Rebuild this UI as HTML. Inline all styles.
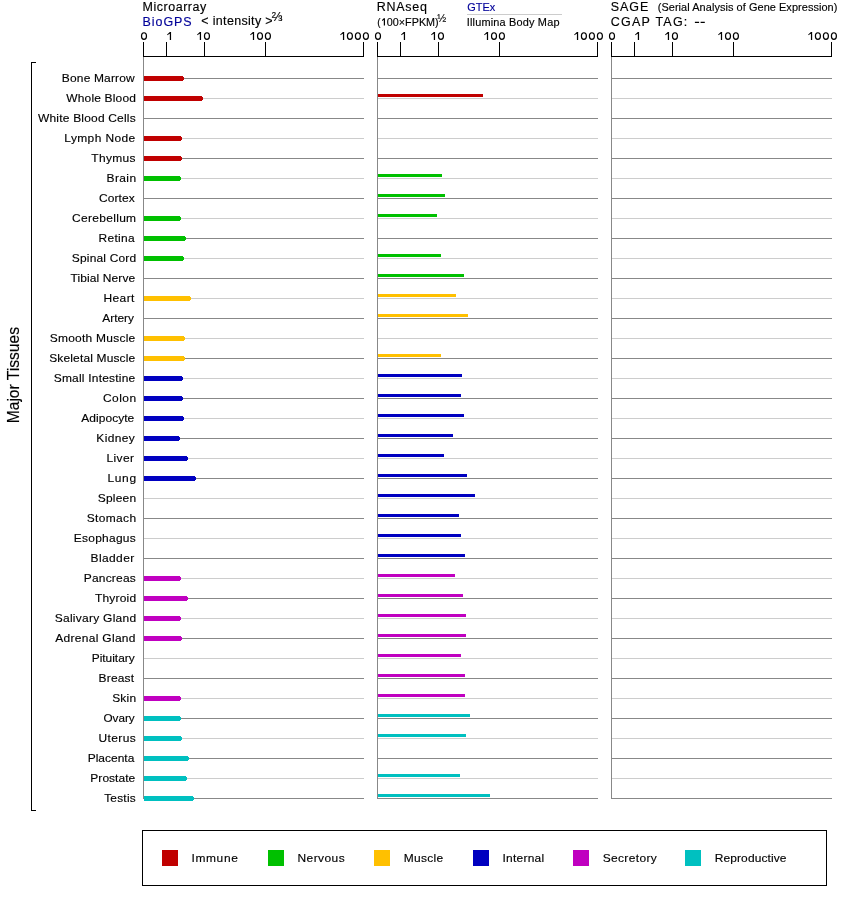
<!DOCTYPE html>
<html><head><meta charset="utf-8"><style>
html,body{margin:0;padding:0;background:#fff;width:842px;height:900px;overflow:hidden}
svg{display:block;font-family:"Liberation Sans", sans-serif;will-change:transform}
rect{shape-rendering:crispEdges}
text{stroke:currentColor;stroke-width:0.15px}
</style></head><body>
<svg width="842" height="900" viewBox="0 0 842 900">
<text transform="translate(142.48,11) scale(1.0400,1)" font-size="12" textLength="61.30" lengthAdjust="spacing" xml:space="preserve">Microarray</text>
<text transform="translate(142.48,25.7) scale(1.0400,1)" font-size="12" textLength="47.30" lengthAdjust="spacing" fill="#000099" style="color:#000099" xml:space="preserve">BioGPS</text>
<text transform="translate(201.28,24.8) scale(1.0400,1)" font-size="12" textLength="68.58" lengthAdjust="spacing" xml:space="preserve">&lt; intensity &gt;</text>
<text transform="translate(271.79,20.9) scale(0.9982,1)" font-size="12.8" xml:space="preserve">⅔</text>
<text transform="translate(376.68,11) scale(1.0400,1)" font-size="12" textLength="48.39" lengthAdjust="spacing" xml:space="preserve">RNAseq</text>
<text transform="translate(377.27,25.6) scale(0.9258,1)" font-size="11" xml:space="preserve">(</text>
<path d="M383.8,18.3h1.2v7.3h-1.2zM383.8,18.3h1.2v1.0L382,20.9v-0.8z" fill="#000"/>
<text transform="translate(386.78,25.6) scale(0.9813,1)" font-size="11" textLength="52.88" lengthAdjust="spacing" xml:space="preserve">00×FPKM)</text>
<text transform="translate(437.31,21.8) scale(0.9533,1)" font-size="11.3" xml:space="preserve">½</text>
<text transform="translate(467.25,10.7) scale(1.0384,1)" font-size="10.5" textLength="26.83" lengthAdjust="spacing" fill="#000099" style="color:#000099" xml:space="preserve">GTEx</text>
<rect x="467" y="14" width="95" height="1" fill="#cccccc"/>
<text transform="translate(466.79,25.9) scale(1.0400,1)" font-size="10.5" textLength="89.10" lengthAdjust="spacing" xml:space="preserve">Illumina Body Map</text>
<text transform="translate(610.83,11) scale(1.0400,1)" font-size="12" textLength="36.06" lengthAdjust="spacing" xml:space="preserve">SAGE</text>
<text transform="translate(657.72,11) scale(1.0400,1)" font-size="10.5" textLength="172.74" lengthAdjust="spacing" xml:space="preserve">(Serial Analysis of Gene Expression)</text>
<text transform="translate(610.77,25.8) scale(1.0400,1)" font-size="12" textLength="73.63" lengthAdjust="spacing" xml:space="preserve">CGAP TAG:</text>
<path d="M694.9,21.8h4.2v1.3h-4.2zM700.6,21.8h4.2v1.3h-4.2z" fill="#000"/>
<rect x="143" y="56" width="221" height="1" fill="#000"/>
<rect x="143" y="42" width="1" height="14" fill="#000"/>
<rect x="166" y="42" width="1" height="14" fill="#000"/>
<rect x="204" y="42" width="1" height="14" fill="#000"/>
<rect x="265" y="42" width="1" height="14" fill="#000"/>
<rect x="363" y="42" width="1" height="14" fill="#000"/>
<path d="M169.82,32 L171.07,32 L171.07,40 L169.82,40 Z M169.82,32 L171.07,32 L171.07,33.1 L167.15,35.20 L167.15,34.40 Z" fill="#000"/>
<ellipse cx="144.00" cy="36.05" rx="2.5" ry="3.3" fill="none" stroke="#000" stroke-width="1.2"/>
<path d="M199.82,32 L201.07,32 L201.07,40 L199.82,40 Z M199.82,32 L201.07,32 L201.07,33.1 L197.15,35.20 L197.15,34.40 Z" fill="#000"/>
<ellipse cx="206.95" cy="36.05" rx="2.5" ry="3.3" fill="none" stroke="#000" stroke-width="1.2"/>
<path d="M252.88,32 L254.12,32 L254.12,40 L252.88,40 Z M252.88,32 L254.12,32 L254.12,33.1 L250.20,35.20 L250.20,34.40 Z" fill="#000"/>
<ellipse cx="260.00" cy="36.05" rx="2.5" ry="3.3" fill="none" stroke="#000" stroke-width="1.2"/>
<ellipse cx="267.90" cy="36.05" rx="2.5" ry="3.3" fill="none" stroke="#000" stroke-width="1.2"/>
<path d="M342.93,32 L344.18,32 L344.18,40 L342.93,40 Z M342.93,32 L344.18,32 L344.18,33.1 L340.25,35.20 L340.25,34.40 Z" fill="#000"/>
<ellipse cx="349.90" cy="36.05" rx="2.5" ry="3.3" fill="none" stroke="#000" stroke-width="1.2"/>
<ellipse cx="357.90" cy="36.05" rx="2.5" ry="3.3" fill="none" stroke="#000" stroke-width="1.2"/>
<ellipse cx="365.90" cy="36.05" rx="2.5" ry="3.3" fill="none" stroke="#000" stroke-width="1.2"/>
<rect x="143" y="57" width="1" height="742" fill="#888888"/>
<rect x="144" y="78" width="220" height="1" fill="#888888"/>
<rect x="144" y="98" width="220" height="1" fill="#cccccc"/>
<rect x="144" y="118" width="220" height="1" fill="#888888"/>
<rect x="144" y="138" width="220" height="1" fill="#cccccc"/>
<rect x="144" y="158" width="220" height="1" fill="#888888"/>
<rect x="144" y="178" width="220" height="1" fill="#cccccc"/>
<rect x="144" y="198" width="220" height="1" fill="#888888"/>
<rect x="144" y="218" width="220" height="1" fill="#cccccc"/>
<rect x="144" y="238" width="220" height="1" fill="#888888"/>
<rect x="144" y="258" width="220" height="1" fill="#cccccc"/>
<rect x="144" y="278" width="220" height="1" fill="#888888"/>
<rect x="144" y="298" width="220" height="1" fill="#cccccc"/>
<rect x="144" y="318" width="220" height="1" fill="#888888"/>
<rect x="144" y="338" width="220" height="1" fill="#cccccc"/>
<rect x="144" y="358" width="220" height="1" fill="#888888"/>
<rect x="144" y="378" width="220" height="1" fill="#cccccc"/>
<rect x="144" y="398" width="220" height="1" fill="#888888"/>
<rect x="144" y="418" width="220" height="1" fill="#cccccc"/>
<rect x="144" y="438" width="220" height="1" fill="#888888"/>
<rect x="144" y="458" width="220" height="1" fill="#cccccc"/>
<rect x="144" y="478" width="220" height="1" fill="#888888"/>
<rect x="144" y="498" width="220" height="1" fill="#cccccc"/>
<rect x="144" y="518" width="220" height="1" fill="#888888"/>
<rect x="144" y="538" width="220" height="1" fill="#cccccc"/>
<rect x="144" y="558" width="220" height="1" fill="#888888"/>
<rect x="144" y="578" width="220" height="1" fill="#cccccc"/>
<rect x="144" y="598" width="220" height="1" fill="#888888"/>
<rect x="144" y="618" width="220" height="1" fill="#cccccc"/>
<rect x="144" y="638" width="220" height="1" fill="#888888"/>
<rect x="144" y="658" width="220" height="1" fill="#cccccc"/>
<rect x="144" y="678" width="220" height="1" fill="#888888"/>
<rect x="144" y="698" width="220" height="1" fill="#cccccc"/>
<rect x="144" y="718" width="220" height="1" fill="#888888"/>
<rect x="144" y="738" width="220" height="1" fill="#cccccc"/>
<rect x="144" y="758" width="220" height="1" fill="#888888"/>
<rect x="144" y="778" width="220" height="1" fill="#cccccc"/>
<rect x="144" y="798" width="220" height="1" fill="#888888"/>
<rect x="377" y="56" width="221" height="1" fill="#000"/>
<rect x="377" y="42" width="1" height="14" fill="#000"/>
<rect x="400" y="42" width="1" height="14" fill="#000"/>
<rect x="438" y="42" width="1" height="14" fill="#000"/>
<rect x="499" y="42" width="1" height="14" fill="#000"/>
<rect x="597" y="42" width="1" height="14" fill="#000"/>
<path d="M403.82,32 L405.07,32 L405.07,40 L403.82,40 Z M403.82,32 L405.07,32 L405.07,33.1 L401.15,35.20 L401.15,34.40 Z" fill="#000"/>
<ellipse cx="378.00" cy="36.05" rx="2.5" ry="3.3" fill="none" stroke="#000" stroke-width="1.2"/>
<path d="M433.82,32 L435.07,32 L435.07,40 L433.82,40 Z M433.82,32 L435.07,32 L435.07,33.1 L431.15,35.20 L431.15,34.40 Z" fill="#000"/>
<ellipse cx="440.95" cy="36.05" rx="2.5" ry="3.3" fill="none" stroke="#000" stroke-width="1.2"/>
<path d="M486.88,32 L488.12,32 L488.12,40 L486.88,40 Z M486.88,32 L488.12,32 L488.12,33.1 L484.20,35.20 L484.20,34.40 Z" fill="#000"/>
<ellipse cx="494.00" cy="36.05" rx="2.5" ry="3.3" fill="none" stroke="#000" stroke-width="1.2"/>
<ellipse cx="501.90" cy="36.05" rx="2.5" ry="3.3" fill="none" stroke="#000" stroke-width="1.2"/>
<path d="M576.92,32 L578.17,32 L578.17,40 L576.92,40 Z M576.92,32 L578.17,32 L578.17,33.1 L574.25,35.20 L574.25,34.40 Z" fill="#000"/>
<ellipse cx="583.90" cy="36.05" rx="2.5" ry="3.3" fill="none" stroke="#000" stroke-width="1.2"/>
<ellipse cx="591.90" cy="36.05" rx="2.5" ry="3.3" fill="none" stroke="#000" stroke-width="1.2"/>
<ellipse cx="599.90" cy="36.05" rx="2.5" ry="3.3" fill="none" stroke="#000" stroke-width="1.2"/>
<rect x="377" y="57" width="1" height="742" fill="#888888"/>
<rect x="378" y="78" width="220" height="1" fill="#888888"/>
<rect x="378" y="98" width="220" height="1" fill="#cccccc"/>
<rect x="378" y="118" width="220" height="1" fill="#888888"/>
<rect x="378" y="138" width="220" height="1" fill="#cccccc"/>
<rect x="378" y="158" width="220" height="1" fill="#888888"/>
<rect x="378" y="178" width="220" height="1" fill="#cccccc"/>
<rect x="378" y="198" width="220" height="1" fill="#888888"/>
<rect x="378" y="218" width="220" height="1" fill="#cccccc"/>
<rect x="378" y="238" width="220" height="1" fill="#888888"/>
<rect x="378" y="258" width="220" height="1" fill="#cccccc"/>
<rect x="378" y="278" width="220" height="1" fill="#888888"/>
<rect x="378" y="298" width="220" height="1" fill="#cccccc"/>
<rect x="378" y="318" width="220" height="1" fill="#888888"/>
<rect x="378" y="338" width="220" height="1" fill="#cccccc"/>
<rect x="378" y="358" width="220" height="1" fill="#888888"/>
<rect x="378" y="378" width="220" height="1" fill="#cccccc"/>
<rect x="378" y="398" width="220" height="1" fill="#888888"/>
<rect x="378" y="418" width="220" height="1" fill="#cccccc"/>
<rect x="378" y="438" width="220" height="1" fill="#888888"/>
<rect x="378" y="458" width="220" height="1" fill="#cccccc"/>
<rect x="378" y="478" width="220" height="1" fill="#888888"/>
<rect x="378" y="498" width="220" height="1" fill="#cccccc"/>
<rect x="378" y="518" width="220" height="1" fill="#888888"/>
<rect x="378" y="538" width="220" height="1" fill="#cccccc"/>
<rect x="378" y="558" width="220" height="1" fill="#888888"/>
<rect x="378" y="578" width="220" height="1" fill="#cccccc"/>
<rect x="378" y="598" width="220" height="1" fill="#888888"/>
<rect x="378" y="618" width="220" height="1" fill="#cccccc"/>
<rect x="378" y="638" width="220" height="1" fill="#888888"/>
<rect x="378" y="658" width="220" height="1" fill="#cccccc"/>
<rect x="378" y="678" width="220" height="1" fill="#888888"/>
<rect x="378" y="698" width="220" height="1" fill="#cccccc"/>
<rect x="378" y="718" width="220" height="1" fill="#888888"/>
<rect x="378" y="738" width="220" height="1" fill="#cccccc"/>
<rect x="378" y="758" width="220" height="1" fill="#888888"/>
<rect x="378" y="778" width="220" height="1" fill="#cccccc"/>
<rect x="378" y="798" width="220" height="1" fill="#888888"/>
<rect x="611" y="56" width="221" height="1" fill="#000"/>
<rect x="611" y="42" width="1" height="14" fill="#000"/>
<rect x="634" y="42" width="1" height="14" fill="#000"/>
<rect x="672" y="42" width="1" height="14" fill="#000"/>
<rect x="733" y="42" width="1" height="14" fill="#000"/>
<rect x="831" y="42" width="1" height="14" fill="#000"/>
<path d="M637.83,32 L639.08,32 L639.08,40 L637.83,40 Z M637.83,32 L639.08,32 L639.08,33.1 L635.15,35.20 L635.15,34.40 Z" fill="#000"/>
<ellipse cx="612.00" cy="36.05" rx="2.5" ry="3.3" fill="none" stroke="#000" stroke-width="1.2"/>
<path d="M667.83,32 L669.08,32 L669.08,40 L667.83,40 Z M667.83,32 L669.08,32 L669.08,33.1 L665.15,35.20 L665.15,34.40 Z" fill="#000"/>
<ellipse cx="674.95" cy="36.05" rx="2.5" ry="3.3" fill="none" stroke="#000" stroke-width="1.2"/>
<path d="M720.88,32 L722.12,32 L722.12,40 L720.88,40 Z M720.88,32 L722.12,32 L722.12,33.1 L718.20,35.20 L718.20,34.40 Z" fill="#000"/>
<ellipse cx="728.00" cy="36.05" rx="2.5" ry="3.3" fill="none" stroke="#000" stroke-width="1.2"/>
<ellipse cx="735.90" cy="36.05" rx="2.5" ry="3.3" fill="none" stroke="#000" stroke-width="1.2"/>
<path d="M810.92,32 L812.17,32 L812.17,40 L810.92,40 Z M810.92,32 L812.17,32 L812.17,33.1 L808.25,35.20 L808.25,34.40 Z" fill="#000"/>
<ellipse cx="817.90" cy="36.05" rx="2.5" ry="3.3" fill="none" stroke="#000" stroke-width="1.2"/>
<ellipse cx="825.90" cy="36.05" rx="2.5" ry="3.3" fill="none" stroke="#000" stroke-width="1.2"/>
<ellipse cx="833.90" cy="36.05" rx="2.5" ry="3.3" fill="none" stroke="#000" stroke-width="1.2"/>
<rect x="611" y="57" width="1" height="742" fill="#888888"/>
<rect x="612" y="78" width="220" height="1" fill="#888888"/>
<rect x="612" y="98" width="220" height="1" fill="#cccccc"/>
<rect x="612" y="118" width="220" height="1" fill="#888888"/>
<rect x="612" y="138" width="220" height="1" fill="#cccccc"/>
<rect x="612" y="158" width="220" height="1" fill="#888888"/>
<rect x="612" y="178" width="220" height="1" fill="#cccccc"/>
<rect x="612" y="198" width="220" height="1" fill="#888888"/>
<rect x="612" y="218" width="220" height="1" fill="#cccccc"/>
<rect x="612" y="238" width="220" height="1" fill="#888888"/>
<rect x="612" y="258" width="220" height="1" fill="#cccccc"/>
<rect x="612" y="278" width="220" height="1" fill="#888888"/>
<rect x="612" y="298" width="220" height="1" fill="#cccccc"/>
<rect x="612" y="318" width="220" height="1" fill="#888888"/>
<rect x="612" y="338" width="220" height="1" fill="#cccccc"/>
<rect x="612" y="358" width="220" height="1" fill="#888888"/>
<rect x="612" y="378" width="220" height="1" fill="#cccccc"/>
<rect x="612" y="398" width="220" height="1" fill="#888888"/>
<rect x="612" y="418" width="220" height="1" fill="#cccccc"/>
<rect x="612" y="438" width="220" height="1" fill="#888888"/>
<rect x="612" y="458" width="220" height="1" fill="#cccccc"/>
<rect x="612" y="478" width="220" height="1" fill="#888888"/>
<rect x="612" y="498" width="220" height="1" fill="#cccccc"/>
<rect x="612" y="518" width="220" height="1" fill="#888888"/>
<rect x="612" y="538" width="220" height="1" fill="#cccccc"/>
<rect x="612" y="558" width="220" height="1" fill="#888888"/>
<rect x="612" y="578" width="220" height="1" fill="#cccccc"/>
<rect x="612" y="598" width="220" height="1" fill="#888888"/>
<rect x="612" y="618" width="220" height="1" fill="#cccccc"/>
<rect x="612" y="638" width="220" height="1" fill="#888888"/>
<rect x="612" y="658" width="220" height="1" fill="#cccccc"/>
<rect x="612" y="678" width="220" height="1" fill="#888888"/>
<rect x="612" y="698" width="220" height="1" fill="#cccccc"/>
<rect x="612" y="718" width="220" height="1" fill="#888888"/>
<rect x="612" y="738" width="220" height="1" fill="#cccccc"/>
<rect x="612" y="758" width="220" height="1" fill="#888888"/>
<rect x="612" y="778" width="220" height="1" fill="#cccccc"/>
<rect x="612" y="798" width="220" height="1" fill="#888888"/>
<rect x="144" y="76" width="39" height="5" fill="#c00000"/>
<rect x="183" y="77" width="1" height="3" fill="#c00000"/>
<text transform="translate(61.87,82) scale(1.0400,1)" font-size="11.5" textLength="70.00" lengthAdjust="spacing" xml:space="preserve">Bone Marrow</text>
<rect x="144" y="96" width="58" height="5" fill="#c00000"/>
<rect x="202" y="97" width="1" height="3" fill="#c00000"/>
<rect x="378" y="94" width="105" height="3" fill="#c00000"/>
<text transform="translate(66.25,102) scale(1.0400,1)" font-size="11.5" textLength="67.04" lengthAdjust="spacing" xml:space="preserve">Whole Blood</text>
<text transform="translate(38.05,122) scale(1.0400,1)" font-size="11.5" textLength="93.83" lengthAdjust="spacing" xml:space="preserve">White Blood Cells</text>
<rect x="144" y="136" width="37" height="5" fill="#c00000"/>
<rect x="181" y="137" width="1" height="3" fill="#c00000"/>
<text transform="translate(64.32,142) scale(1.0400,1)" font-size="11.5" textLength="68.19" lengthAdjust="spacing" xml:space="preserve">Lymph Node</text>
<rect x="144" y="156" width="37" height="5" fill="#c00000"/>
<rect x="181" y="157" width="1" height="3" fill="#c00000"/>
<text transform="translate(91.33,162) scale(1.0400,1)" font-size="11.5" textLength="42.50" lengthAdjust="spacing" xml:space="preserve">Thymus</text>
<rect x="144" y="176" width="36" height="5" fill="#00c000"/>
<rect x="180" y="177" width="1" height="3" fill="#00c000"/>
<rect x="378" y="174" width="64" height="3" fill="#00c000"/>
<text transform="translate(106.62,182) scale(1.0400,1)" font-size="11.5" textLength="28.32" lengthAdjust="spacing" xml:space="preserve">Brain</text>
<rect x="378" y="194" width="67" height="3" fill="#00c000"/>
<text transform="translate(98.99,202) scale(1.0400,1)" font-size="11.5" textLength="34.46" lengthAdjust="spacing" xml:space="preserve">Cortex</text>
<rect x="144" y="216" width="36" height="5" fill="#00c000"/>
<rect x="180" y="217" width="1" height="3" fill="#00c000"/>
<rect x="378" y="214" width="59" height="3" fill="#00c000"/>
<text transform="translate(72.09,222) scale(1.0400,1)" font-size="11.5" textLength="61.53" lengthAdjust="spacing" xml:space="preserve">Cerebellum</text>
<rect x="144" y="236" width="41" height="5" fill="#00c000"/>
<rect x="185" y="237" width="1" height="3" fill="#00c000"/>
<text transform="translate(98.62,242) scale(1.0400,1)" font-size="11.5" textLength="34.69" lengthAdjust="spacing" xml:space="preserve">Retina</text>
<rect x="144" y="256" width="39" height="5" fill="#00c000"/>
<rect x="183" y="257" width="1" height="3" fill="#00c000"/>
<rect x="378" y="254" width="63" height="3" fill="#00c000"/>
<text transform="translate(71.86,262) scale(1.0400,1)" font-size="11.5" textLength="61.74" lengthAdjust="spacing" xml:space="preserve">Spinal Cord</text>
<rect x="378" y="274" width="86" height="3" fill="#00c000"/>
<text transform="translate(70.43,282) scale(1.0400,1)" font-size="11.5" textLength="62.31" lengthAdjust="spacing" xml:space="preserve">Tibial Nerve</text>
<rect x="144" y="296" width="46" height="5" fill="#ffc000"/>
<rect x="190" y="297" width="1" height="3" fill="#ffc000"/>
<rect x="378" y="294" width="78" height="3" fill="#ffc000"/>
<text transform="translate(103.42,302) scale(1.0400,1)" font-size="11.5" textLength="29.78" lengthAdjust="spacing" xml:space="preserve">Heart</text>
<rect x="378" y="314" width="90" height="3" fill="#ffc000"/>
<text transform="translate(102.28,322) scale(1.0351,1)" font-size="11.5" textLength="30.67" lengthAdjust="spacing" xml:space="preserve">Artery</text>
<rect x="144" y="336" width="40" height="5" fill="#ffc000"/>
<rect x="184" y="337" width="1" height="3" fill="#ffc000"/>
<text transform="translate(49.76,342) scale(1.0400,1)" font-size="11.5" textLength="82.19" lengthAdjust="spacing" xml:space="preserve">Smooth Muscle</text>
<rect x="144" y="356" width="40" height="5" fill="#ffc000"/>
<rect x="184" y="357" width="1" height="3" fill="#ffc000"/>
<rect x="378" y="354" width="63" height="3" fill="#ffc000"/>
<text transform="translate(49.16,362) scale(1.0400,1)" font-size="11.5" textLength="82.76" lengthAdjust="spacing" xml:space="preserve">Skeletal Muscle</text>
<rect x="144" y="376" width="38" height="5" fill="#0000c0"/>
<rect x="182" y="377" width="1" height="3" fill="#0000c0"/>
<rect x="378" y="374" width="84" height="3" fill="#0000c0"/>
<text transform="translate(53.76,382) scale(1.0400,1)" font-size="11.5" textLength="78.34" lengthAdjust="spacing" xml:space="preserve">Small Intestine</text>
<rect x="144" y="396" width="38" height="5" fill="#0000c0"/>
<rect x="182" y="397" width="1" height="3" fill="#0000c0"/>
<rect x="378" y="394" width="83" height="3" fill="#0000c0"/>
<text transform="translate(102.99,402) scale(1.0400,1)" font-size="11.5" textLength="31.81" lengthAdjust="spacing" xml:space="preserve">Colon</text>
<rect x="144" y="416" width="39" height="5" fill="#0000c0"/>
<rect x="183" y="417" width="1" height="3" fill="#0000c0"/>
<rect x="378" y="414" width="86" height="3" fill="#0000c0"/>
<text transform="translate(81.28,422) scale(1.0400,1)" font-size="11.5" textLength="50.92" lengthAdjust="spacing" xml:space="preserve">Adipocyte</text>
<rect x="144" y="436" width="35" height="5" fill="#0000c0"/>
<rect x="179" y="437" width="1" height="3" fill="#0000c0"/>
<rect x="378" y="434" width="75" height="3" fill="#0000c0"/>
<text transform="translate(96.32,442) scale(1.0400,1)" font-size="11.5" textLength="36.93" lengthAdjust="spacing" xml:space="preserve">Kidney</text>
<rect x="144" y="456" width="43" height="5" fill="#0000c0"/>
<rect x="187" y="457" width="1" height="3" fill="#0000c0"/>
<rect x="378" y="454" width="66" height="3" fill="#0000c0"/>
<text transform="translate(106.62,462) scale(1.0400,1)" font-size="11.5" textLength="26.23" lengthAdjust="spacing" xml:space="preserve">Liver</text>
<rect x="144" y="476" width="51" height="5" fill="#0000c0"/>
<rect x="195" y="477" width="1" height="3" fill="#0000c0"/>
<rect x="378" y="474" width="89" height="3" fill="#0000c0"/>
<text transform="translate(107.42,482) scale(1.0400,1)" font-size="11.5" textLength="27.55" lengthAdjust="spacing" xml:space="preserve">Lung</text>
<rect x="378" y="494" width="97" height="3" fill="#0000c0"/>
<text transform="translate(97.76,502) scale(1.0400,1)" font-size="11.5" textLength="36.85" lengthAdjust="spacing" xml:space="preserve">Spleen</text>
<rect x="378" y="514" width="81" height="3" fill="#0000c0"/>
<text transform="translate(86.76,522) scale(1.0400,1)" font-size="11.5" textLength="47.42" lengthAdjust="spacing" xml:space="preserve">Stomach</text>
<rect x="378" y="534" width="83" height="3" fill="#0000c0"/>
<text transform="translate(73.72,542) scale(1.0400,1)" font-size="11.5" textLength="59.63" lengthAdjust="spacing" xml:space="preserve">Esophagus</text>
<rect x="378" y="554" width="87" height="3" fill="#0000c0"/>
<text transform="translate(90.62,562) scale(1.0400,1)" font-size="11.5" textLength="41.90" lengthAdjust="spacing" xml:space="preserve">Bladder</text>
<rect x="144" y="576" width="36" height="5" fill="#c000c0"/>
<rect x="180" y="577" width="1" height="3" fill="#c000c0"/>
<rect x="378" y="574" width="77" height="3" fill="#c000c0"/>
<text transform="translate(83.72,582) scale(1.0400,1)" font-size="11.5" textLength="50.01" lengthAdjust="spacing" xml:space="preserve">Pancreas</text>
<rect x="144" y="596" width="43" height="5" fill="#c000c0"/>
<rect x="187" y="597" width="1" height="3" fill="#c000c0"/>
<rect x="378" y="594" width="85" height="3" fill="#c000c0"/>
<text transform="translate(95.03,602) scale(1.0400,1)" font-size="11.5" textLength="39.46" lengthAdjust="spacing" xml:space="preserve">Thyroid</text>
<rect x="144" y="616" width="36" height="5" fill="#c000c0"/>
<rect x="180" y="617" width="1" height="3" fill="#c000c0"/>
<rect x="378" y="614" width="88" height="3" fill="#c000c0"/>
<text transform="translate(54.76,622) scale(1.0400,1)" font-size="11.5" textLength="78.19" lengthAdjust="spacing" xml:space="preserve">Salivary Gland</text>
<rect x="144" y="636" width="37" height="5" fill="#c000c0"/>
<rect x="181" y="637" width="1" height="3" fill="#c000c0"/>
<rect x="378" y="634" width="88" height="3" fill="#c000c0"/>
<text transform="translate(55.28,642) scale(1.0400,1)" font-size="11.5" textLength="77.11" lengthAdjust="spacing" xml:space="preserve">Adrenal Gland</text>
<rect x="378" y="654" width="83" height="3" fill="#c000c0"/>
<text transform="translate(91.72,662) scale(1.0351,1)" font-size="11.5" textLength="41.54" lengthAdjust="spacing" xml:space="preserve">Pituitary</text>
<rect x="378" y="674" width="87" height="3" fill="#c000c0"/>
<text transform="translate(98.62,682) scale(1.0400,1)" font-size="11.5" textLength="34.10" lengthAdjust="spacing" xml:space="preserve">Breast</text>
<rect x="144" y="696" width="36" height="5" fill="#c000c0"/>
<rect x="180" y="697" width="1" height="3" fill="#c000c0"/>
<rect x="378" y="694" width="87" height="3" fill="#c000c0"/>
<text transform="translate(112.16,702) scale(1.0400,1)" font-size="11.5" textLength="23.00" lengthAdjust="spacing" xml:space="preserve">Skin</text>
<rect x="144" y="716" width="36" height="5" fill="#00c0c0"/>
<rect x="180" y="717" width="1" height="3" fill="#00c0c0"/>
<rect x="378" y="714" width="92" height="3" fill="#00c0c0"/>
<text transform="translate(103.44,722) scale(1.0198,1)" font-size="11.5" textLength="30.67" lengthAdjust="spacing" xml:space="preserve">Ovary</text>
<rect x="144" y="736" width="37" height="5" fill="#00c0c0"/>
<rect x="181" y="737" width="1" height="3" fill="#00c0c0"/>
<rect x="378" y="734" width="88" height="3" fill="#00c0c0"/>
<text transform="translate(98.38,742) scale(1.0400,1)" font-size="11.5" textLength="35.92" lengthAdjust="spacing" xml:space="preserve">Uterus</text>
<rect x="144" y="756" width="44" height="5" fill="#00c0c0"/>
<rect x="188" y="757" width="1" height="3" fill="#00c0c0"/>
<text transform="translate(87.72,762) scale(1.0400,1)" font-size="11.5" textLength="44.79" lengthAdjust="spacing" xml:space="preserve">Placenta</text>
<rect x="144" y="776" width="42" height="5" fill="#00c0c0"/>
<rect x="186" y="777" width="1" height="3" fill="#00c0c0"/>
<rect x="378" y="774" width="82" height="3" fill="#00c0c0"/>
<text transform="translate(90.32,782) scale(1.0400,1)" font-size="11.5" textLength="43.19" lengthAdjust="spacing" xml:space="preserve">Prostate</text>
<rect x="144" y="796" width="49" height="5" fill="#00c0c0"/>
<rect x="193" y="797" width="1" height="3" fill="#00c0c0"/>
<rect x="378" y="794" width="112" height="3" fill="#00c0c0"/>
<text transform="translate(104.13,802) scale(1.0301,1)" font-size="11.5" textLength="30.67" lengthAdjust="spacing" xml:space="preserve">Testis</text>
<rect x="31" y="62" width="1" height="749" fill="#000"/>
<rect x="31" y="62" width="5" height="1" fill="#000"/>
<rect x="31" y="810" width="5" height="1" fill="#000"/>
<text transform="translate(18.9,423.28) scale(1.08,1) rotate(-90) scale(0.9756,1)" font-size="16">Major Tissues</text>
<rect x="142" y="830" width="685" height="1" fill="#000"/>
<rect x="142" y="885" width="685" height="1" fill="#000"/>
<rect x="142" y="830" width="1" height="56" fill="#000"/>
<rect x="826" y="830" width="1" height="56" fill="#000"/>
<rect x="162" y="850" width="16" height="16" fill="#c00000"/>
<text transform="translate(191.55,862) scale(1.0400,1)" font-size="11.5" textLength="44.50" lengthAdjust="spacing" xml:space="preserve">Immune</text>
<rect x="268" y="850" width="16" height="16" fill="#00c000"/>
<text transform="translate(297.52,862) scale(1.0400,1)" font-size="11.5" textLength="45.30" lengthAdjust="spacing" xml:space="preserve">Nervous</text>
<rect x="374" y="850" width="16" height="16" fill="#ffc000"/>
<text transform="translate(403.67,862) scale(1.0400,1)" font-size="11.5" textLength="38.04" lengthAdjust="spacing" xml:space="preserve">Muscle</text>
<rect x="473" y="850" width="16" height="16" fill="#0000c0"/>
<text transform="translate(502.40,862) scale(1.0400,1)" font-size="11.5" textLength="40.20" lengthAdjust="spacing" xml:space="preserve">Internal</text>
<rect x="573" y="850" width="16" height="16" fill="#c000c0"/>
<text transform="translate(602.66,862) scale(1.0400,1)" font-size="11.5" textLength="52.08" lengthAdjust="spacing" xml:space="preserve">Secretory</text>
<rect x="685" y="850" width="16" height="16" fill="#00c0c0"/>
<text transform="translate(714.72,862) scale(1.0400,1)" font-size="11.5" textLength="69.05" lengthAdjust="spacing" xml:space="preserve">Reproductive</text>
</svg>
</body></html>
